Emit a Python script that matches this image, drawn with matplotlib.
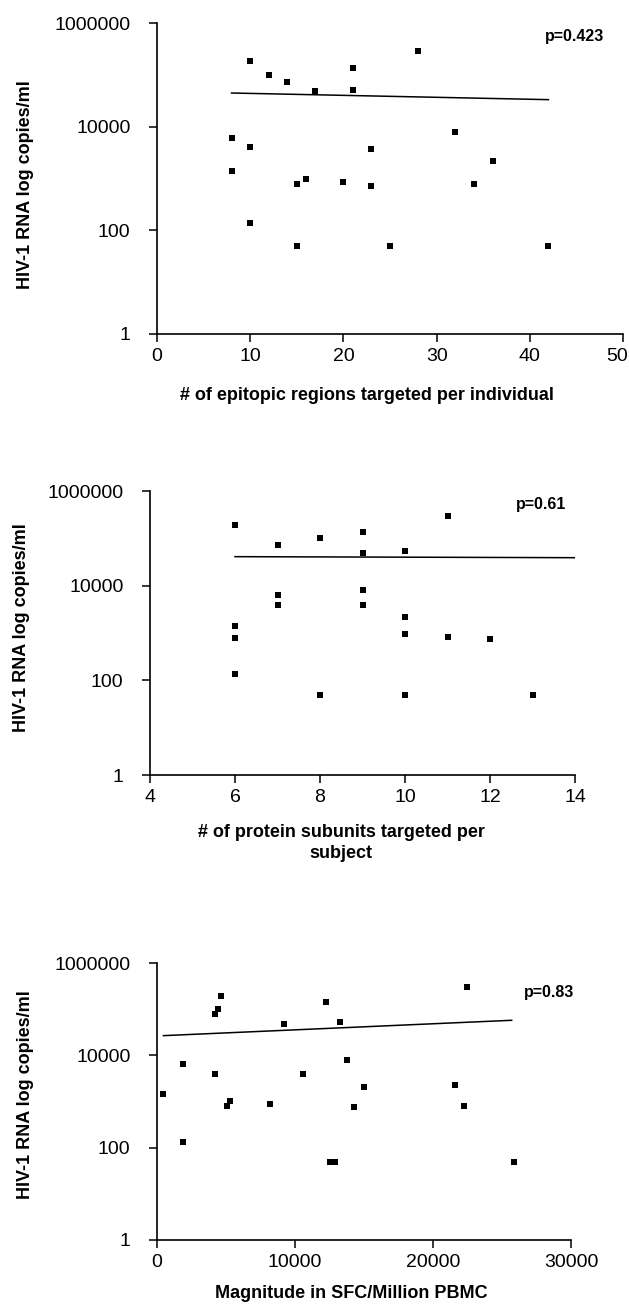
import matplotlib
matplotlib.use('Agg')
import matplotlib.pyplot as plt
import matplotlib.transforms as mtransforms
from matplotlib.ticker import FixedLocator, FixedFormatter, NullLocator

plt.rcParams['font.family'] = ['Liberation Sans', 'DejaVu Sans']

# panel 1: epitopic regions vs viral load
ep_x = [8, 8, 10, 10, 10, 12, 14, 15, 15, 16, 17, 20, 21, 21, 23, 23, 25, 28, 32, 34, 36, 42]
ep_vl = [6150, 1400, 182000, 4000, 136, 98000, 71600, 780, 50, 980, 48700, 870,
         138000, 51700, 3760, 730, 50, 288000, 7900, 795, 2140, 49]
fit_ep_x = [8, 42]
fit_ep_y = [44600, 33200]

# panel 2: protein subunits vs viral load
prot_x = [6, 6, 6, 6, 7, 7, 7, 8, 8, 9, 9, 9, 9, 10, 10, 10, 10, 11, 11, 12, 13]
prot_vl = [187000, 1390, 775, 134, 72000, 6300, 4000, 100000, 50, 138000, 49000,
           7950, 3830, 55000, 2180, 950, 49, 296000, 810, 750, 49]
fit_prot_x = [6, 14]
fit_prot_y = [41000, 39000]

# panel 3: magnitude vs viral load
mag_x = [440, 1890, 1890, 4190, 4220, 4450, 4630, 5070, 5300, 8180, 9170, 10570,
         12230, 12520, 12930, 13270, 13740, 14240, 14990, 21570, 22240, 22450, 25850]
mag_vl = [1490, 6400, 136, 77500, 3960, 99000, 192000, 780, 1050, 900, 48700, 3960,
          141000, 50, 50, 53700, 7960, 755, 2040, 2290, 805, 302000, 49]
fit_mag_x = [470, 25700]
fit_mag_y = [26700, 57400]

y_ticks = [1, 100, 10000, 1000000]
y_labels = ['1', '100', '10000', '1000000']
ylabel = 'HIV-1 RNA log copies/ml'

fig = plt.figure(figsize=(6.29, 13.05), dpi=100)


def setup_panel(rect, x, y, fx, fy, xlim, xticks, xlabel, ptext, ppos, xlabpos, ylabpos):
    ax = fig.add_axes(rect)
    ax.plot(x, y, 's', color='black', markersize=4.5, markeredgewidth=0)
    ax.plot(fx, fy, '-', color='black', linewidth=1.1)
    ax.set_yscale('log')
    ax.set_ylim(1, 1000000)
    ax.set_xlim(*xlim)
    ax.yaxis.set_major_locator(FixedLocator(y_ticks))
    ax.yaxis.set_major_formatter(FixedFormatter(y_labels))
    ax.yaxis.set_minor_locator(NullLocator())
    ax.set_xticks(xticks)
    ax.set_xticklabels([str(t) for t in xticks])
    for s in ['top', 'right']:
        ax.spines[s].set_visible(False)
    for s in ['left', 'bottom']:
        ax.spines[s].set_linewidth(1.2)
    ax.tick_params(axis='both', direction='out', length=6, width=1.1, labelsize=14)
    ax.tick_params(axis='y', pad=13)
    ax.tick_params(axis='x', pad=4)
    ax.text(ppos[0], ppos[1], ptext, transform=ax.transAxes, ha='right', va='center',
            fontsize=11.5, fontweight='bold')
    fig.text(xlabpos[0], xlabpos[1], xlabel, ha='center', va='center',
             fontsize=13, fontweight='bold', linespacing=1.3)
    fig.text(ylabpos[0], ylabpos[1], ylabel, ha='center', va='center', rotation=90,
             fontsize=13, fontweight='bold')
    return ax


W, H = 629.0, 1305.0


def rect(left, right, top, bottom):
    return [left / W, 1 - bottom / H, (right - left) / W, (bottom - top) / H]


ax1 = setup_panel(rect(157, 623, 23, 334), ep_x, ep_vl, fit_ep_x, fit_ep_y,
                  (0, 50), [0, 10, 20, 30, 40, 50],
                  '# of epitopic regions targeted per individual', 'p=0.423', (0.959, 0.955),
                  (367 / W, 1 - 396 / H), (26 / W, 1 - 185 / H))
# last tick label sits at the right edge, nudge it in a bit
last = ax1.get_xticklabels()[-1]
last.set_transform(last.get_transform() + mtransforms.ScaledTranslation(-6 / 100, 0, fig.dpi_scale_trans))

setup_panel(rect(150, 575, 491, 775), prot_x, prot_vl, fit_prot_x, fit_prot_y,
            (4, 14), [4, 6, 8, 10, 12, 14],
            '# of protein subunits targeted per\nsubject', 'p=0.61', (0.979, 0.951),
            (341 / W, 1 - 843 / H), (22 / W, 1 - 628 / H))

setup_panel(rect(157, 571, 963, 1240), mag_x, mag_vl, fit_mag_x, fit_mag_y,
            (0, 30000), [0, 10000, 20000, 30000],
            'Magnitude in SFC/Million PBMC', 'p=0.83', (1.007, 0.892),
            (351 / W, 1 - 1293 / H), (26 / W, 1 - 1095 / H))

fig.savefig('out.png', dpi=100)
